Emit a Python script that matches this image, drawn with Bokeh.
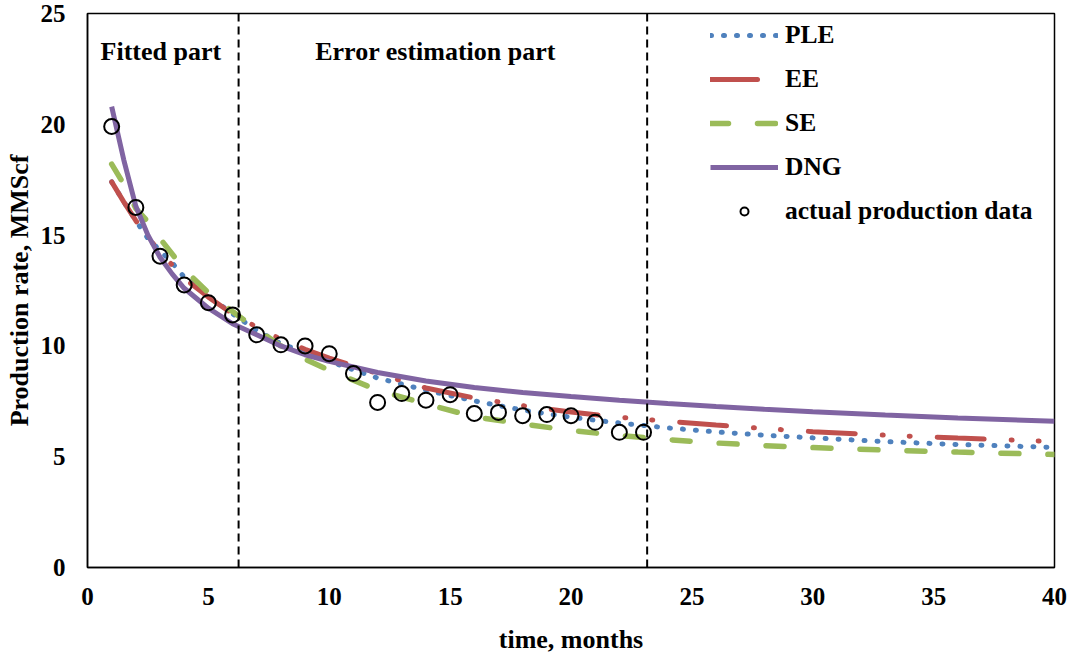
from bokeh.plotting import figure
from bokeh.models import Span, Label, FixedTicker, Legend, LegendItem, Range1d
from bokeh.embed import file_html
from bokeh.resources import INLINE

# ---- data ----
t_model = [1, 1.5, 2, 2.5, 3, 3.5, 4, 5, 6, 7, 8, 9, 10, 12, 14, 16, 18, 20, 22, 24, 26, 28, 30, 33, 36, 40]
ple = [17.4, 16.5, 15.65, 14.85, 14.3, 13.75, 13.1, 12.25, 11.45, 10.7, 10.1, 9.7, 9.3, 8.55, 8.0, 7.52,
       7.1, 6.78, 6.52, 6.3, 6.12, 5.97, 5.85, 5.68, 5.55, 5.42]
ee = [17.4, 16.5, 15.65, 14.9, 14.25, 13.65, 13.05, 12.2, 11.45, 10.85, 10.3, 9.85, 9.45, 8.75, 8.1, 7.65,
      7.3, 7.02, 6.78, 6.6, 6.43, 6.27, 6.13, 5.97, 5.84, 5.68]
se = [18.2, 17.3, 16.2, 15.6, 14.85, 14.15, 13.45, 12.4, 11.55, 10.75, 10.0, 9.4, 8.9, 8.0, 7.38, 6.8,
      6.48, 6.18, 5.96, 5.77, 5.62, 5.5, 5.41, 5.3, 5.21, 5.1]
dng = [20.8, 18.4, 16.3, 15.0, 14.0, 13.25, 12.6, 11.7, 11.0, 10.5, 10.0, 9.6, 9.3, 8.8, 8.42, 8.12,
       7.9, 7.72, 7.55, 7.4, 7.26, 7.14, 7.03, 6.88, 6.75, 6.6]

t_actual = list(range(1, 24))
q_actual = [19.9, 16.25, 14.05, 12.75, 11.95, 11.4, 10.5, 10.05, 10.0, 9.65, 8.75, 7.45, 7.85, 7.55,
            7.8, 6.95, 7.0, 6.85, 6.9, 6.85, 6.55, 6.1, 6.1]

boundaries = [6.25, 23.15]
x_ticks = [0, 5, 10, 15, 20, 25, 30, 35, 40]
y_ticks = [0, 5, 10, 15, 20, 25]

FONT = "'Liberation Serif', 'Times New Roman', serif"

p = figure(width=1074, height=661, output_backend="svg", toolbar_location=None,
           x_range=Range1d(0, 40), y_range=Range1d(0, 25),
           min_border_left=87, min_border_right=20, min_border_top=13, min_border_bottom=94)

p.xgrid.grid_line_color = None
p.ygrid.grid_line_color = None
p.outline_line_color = "black"
p.outline_line_width = 1.5

for ax in (p.xaxis[0], p.yaxis[0]):
    ax.major_tick_line_color = None
    ax.minor_tick_line_color = None
    ax.major_tick_out = 0
    ax.major_tick_in = 0
    ax.minor_tick_out = 0
    ax.minor_tick_in = 0
    ax.axis_line_color = "black"
    ax.axis_line_width = 1.5
    ax.major_label_text_font = FONT
    ax.major_label_text_font_style = "bold"
    ax.major_label_text_font_size = "25px"
    ax.major_label_text_color = "black"
    ax.axis_label_text_font = FONT
    ax.axis_label_text_font_style = "bold"
    ax.axis_label_text_color = "black"

p.xaxis.ticker = FixedTicker(ticks=x_ticks)
p.yaxis.ticker = FixedTicker(ticks=y_ticks)
p.xaxis.axis_label = "time, months"
p.yaxis.axis_label = "Production rate, MMScf"
p.xaxis.axis_label_text_font_size = "26px"
p.yaxis.axis_label_text_font_size = "26px"
p.xaxis.major_label_standoff = 20
p.yaxis.major_label_standoff = 22
p.xaxis.axis_label_standoff = 17
p.yaxis.axis_label_standoff = 4

for b in boundaries:
    p.add_layout(Span(location=b, dimension="height", line_color="black",
                      line_width=2, line_dash="8 5"))

r_ple = p.line(t_model, ple, line_color="#4F81BD", line_width=5, line_dash="1 12", line_cap="round")
r_ee = p.line(t_model, ee, line_color="#C0504D", line_width=5, line_dash="47 27 1 26 1 27", line_cap="round")
r_se = p.line(t_model, se, line_color="#9BBB59", line_width=5.5, line_dash="18 29", line_cap="round")
r_dng = p.line(t_model, dng, line_color="#8064A2", line_width=5)
r_act = p.scatter(t_actual, q_actual, size=15, marker="circle", fill_color=None,
                  line_color="black", line_width=2)

p.add_layout(Label(x=0.54, y=23.3, text="Fitted part", text_font=FONT, text_font_style="bold",
                   text_font_size="26px", text_baseline="alphabetic", text_color="black"))
p.add_layout(Label(x=9.42, y=23.3, text="Error estimation part", text_font=FONT, text_font_style="bold",
                   text_font_size="26px", text_baseline="alphabetic", text_color="black"))

legend = Legend(items=[
    LegendItem(label="PLE", renderers=[r_ple]),
    LegendItem(label="EE", renderers=[r_ee]),
    LegendItem(label="SE", renderers=[r_se]),
    LegendItem(label="DNG", renderers=[r_dng]),
    LegendItem(label="actual production data", renderers=[r_act]),
], location=(623, 341))
legend.border_line_color = None
legend.background_fill_alpha = 0
legend.label_text_font = FONT
legend.label_text_font_style = "bold"
legend.label_text_font_size = "25.5px"
legend.label_text_color = "black"
legend.glyph_width = 68
legend.glyph_height = 20
legend.label_height = 20
legend.label_standoff = 7
legend.spacing = 14
legend.padding = 10
legend.margin = 0
p.add_layout(legend)

open("out.html", "w").write(file_html(p, INLINE))
